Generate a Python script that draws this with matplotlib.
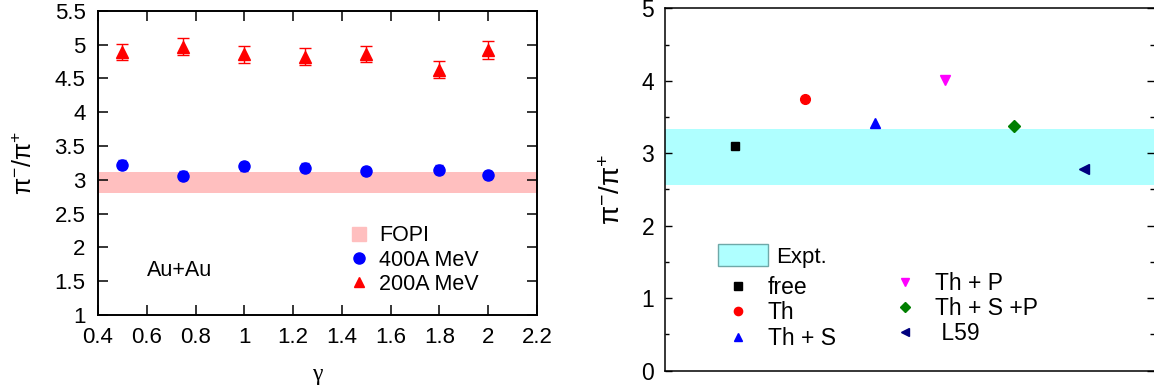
import matplotlib.pyplot as plt
from matplotlib.lines import Line2D
from matplotlib.patches import Patch
from matplotlib.ticker import MultipleLocator, NullLocator

plt.rcParams['font.family'] = ['Liberation Sans', 'DejaVu Sans']
plt.rcParams['mathtext.fontset'] = 'custom'
plt.rcParams['mathtext.rm'] = 'Liberation Sans'

# left panel: pion ratio versus gamma
gamma = [0.5, 0.75, 1.0, 1.25, 1.5, 1.8, 2.0]
ratio_400 = [3.22, 3.06, 3.20, 3.18, 3.13, 3.15, 3.07]
err_400 = [0.065, 0.065, 0.065, 0.065, 0.065, 0.065, 0.065]
ratio_200 = [4.89, 4.97, 4.855, 4.82, 4.855, 4.63, 4.92]
err_200 = [0.12, 0.125, 0.125, 0.125, 0.12, 0.12, 0.13]
fopi_band = (2.81, 3.11)

# right panel: model comparison
models = ['free', 'Th', 'Th + S', 'Th + P', 'Th + S +P', ' L59']
model_x = [1, 2, 3, 4, 5, 6]
model_ratio = [3.10, 3.75, 3.42, 4.01, 3.38, 2.78]
model_marker = ['s', 'o', '^', 'v', 'D', '<']
model_color = ['#000000', '#ff0000', '#0000ff', '#ff00ff', '#007f00', '#00007f']
model_size = [6, 7, 7, 7, 6, 7]
expt_band = (2.56, 3.34)

fig = plt.figure(figsize=(11.54, 3.91), dpi=100)
ax1 = fig.add_axes([0.0849, 0.1944, 0.3804, 0.7782])
ax2 = fig.add_axes([0.5765, 0.0519, 0.4235, 0.9269])

# ---- left panel
ax1.axhspan(*fopi_band, color='#ffbfbf', lw=0, zorder=1)
ax1.errorbar(gamma, ratio_400, yerr=err_400, fmt='o', color='#0000ff', ms=8,
             elinewidth=1, capsize=3, capthick=1, zorder=3)
ax1.errorbar(gamma, ratio_200, yerr=err_200, fmt='^', color='#ff0000', ms=8.5,
             elinewidth=1, capsize=4, capthick=1, zorder=3)
ax1.set_xlim(0.4, 2.2)
ax1.set_ylim(1, 5.5)
ax1.xaxis.set_major_locator(MultipleLocator(0.2))
ax1.yaxis.set_major_locator(MultipleLocator(0.5))
ax1.xaxis.set_major_formatter(plt.FuncFormatter(lambda v, p: f'{v:g}'))
ax1.yaxis.set_major_formatter(plt.FuncFormatter(lambda v, p: f'{v:g}'))
ax1.tick_params(direction='in', top=True, right=True, length=7, width=1.1,
                labelsize=16)
ax1.tick_params(axis='x', pad=9)
ax1.tick_params(axis='y', pad=9)
for s in ax1.spines.values():
    s.set_linewidth(1.4)
ax1.set_xlabel('γ', fontsize=17, va='top', family=['Liberation Serif'])
ax1.xaxis.set_label_coords(0.5, -0.16)
ax1.set_ylabel(r'$\mathregular{\pi^{-}/\pi^{+}}$', fontsize=18)
ax1.yaxis.set_label_coords(-0.14, 0.5)
ax1.text(0.112, 0.1446, 'Au+Au', transform=ax1.transAxes, fontsize=15.5,
         ha='left', va='center')

h1 = [Line2D([], [], ls='none', marker='s', ms=10, color='#ffbfbf'),
      Line2D([], [], ls='none', marker='o', ms=8, color='#0000ff'),
      Line2D([], [], ls='none', marker='^', ms=7, color='#ff0000')]
ax1.legend(h1, ['FOPI', '400A MeV', '200A MeV'], loc='center left',
           bbox_to_anchor=(0.575, 0.18), frameon=False, fontsize=15.5,
           borderpad=0, borderaxespad=0, handlelength=0.8, handletextpad=0.55,
           labelspacing=0.15)

# ---- right panel
ax2.axhspan(*expt_band, color='#afffff', lw=0, zorder=1)
pts = []
for x, y, m, c, ms in zip(model_x, model_ratio, model_marker, model_color, model_size):
    pts.append(ax2.plot(x, y, ls='none', marker=m, color=c, ms=ms, zorder=3)[0])
ax2.set_xlim(0, 7)
ax2.set_ylim(0, 5)
ax2.xaxis.set_major_locator(NullLocator())
ax2.yaxis.set_major_locator(MultipleLocator(1))
ax2.yaxis.set_minor_locator(MultipleLocator(0.5))
ax2.tick_params(axis='y', which='both', direction='in', left=True, right=True,
                labelsize=16.5, pad=8)
ax2.tick_params(axis='y', which='major', length=5, width=1)
ax2.tick_params(axis='y', which='minor', length=3, width=1)
ax2.spines['right'].set_visible(False)
for s in ['left', 'top', 'bottom']:
    ax2.spines[s].set_linewidth(1.1)
ax2.set_ylabel(r'$\mathregular{\pi^{-}/\pi^{+}}$', fontsize=20)
ax2.yaxis.set_label_coords(-0.08, 0.5)

leg_e = ax2.legend([Patch(facecolor='#afffff', edgecolor='#6fa8a8', lw=1)], ['Expt.'],
                   loc='center left', bbox_to_anchor=(0.1087, 0.3165),
                   frameon=False, fontsize=16, borderpad=0, borderaxespad=0,
                   handlelength=2.25, handleheight=1.08, handletextpad=0.33)
ax2.add_artist(leg_e)
leg_a = ax2.legend(pts[:3], models[:3], loc='center left',
                   bbox_to_anchor=(0.1248, 0.1598), frameon=False, fontsize=16.5,
                   borderpad=0, borderaxespad=0, handlelength=1.0,
                   handletextpad=0.8, labelspacing=0.1, markerscale=0.85)
ax2.add_artist(leg_a)
ax2.legend(pts[3:], models[3:], loc='center left',
           bbox_to_anchor=(0.4678, 0.1714), frameon=False, fontsize=16.5,
           borderpad=0, borderaxespad=0, handlelength=1.0,
           handletextpad=0.8, labelspacing=0.1, markerscale=0.85)

fig.savefig('out.png', dpi=100)
